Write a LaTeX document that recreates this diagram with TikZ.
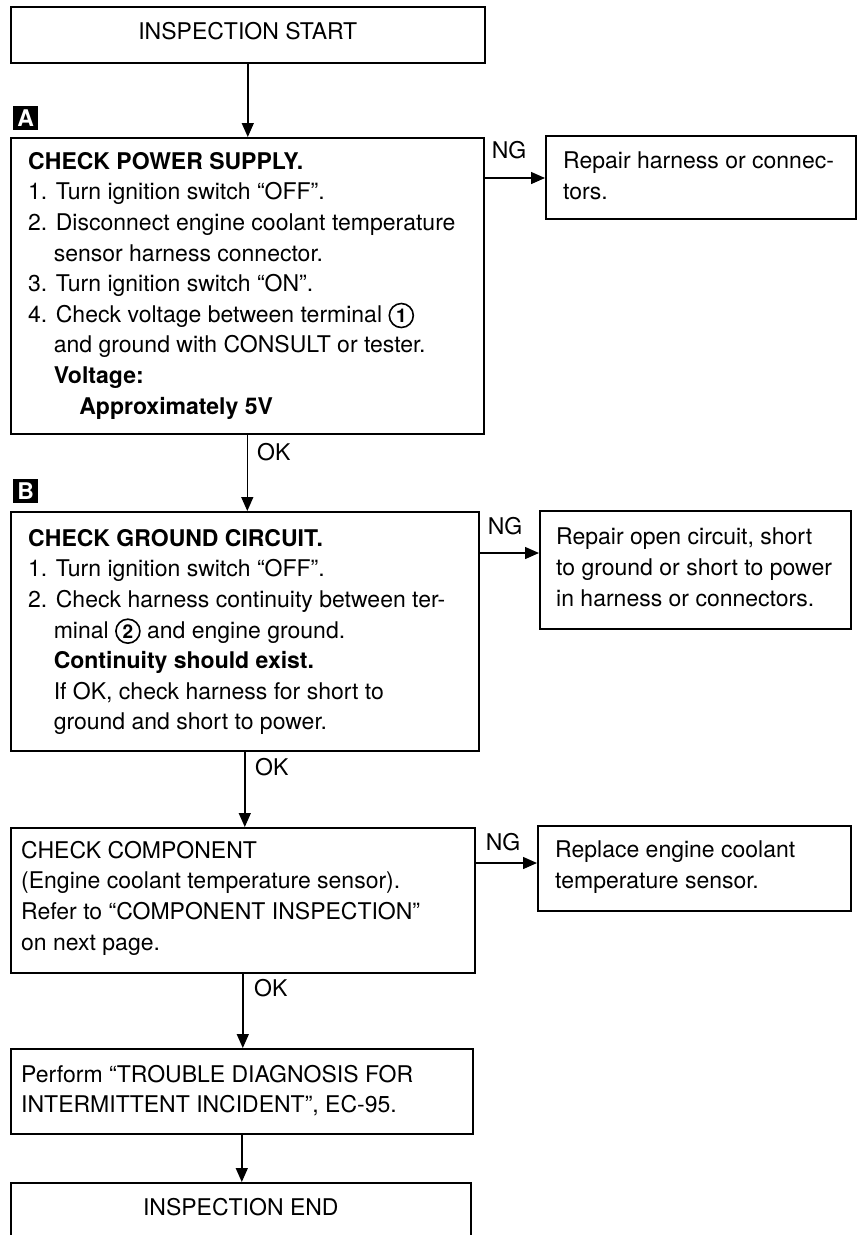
\documentclass[tikz,border=0pt]{standalone}
\usepackage{fontspec}
\setmainfont{TeX Gyre Heros}
\usetikzlibrary{arrows.meta}
\newcommand\bodyfont{\fontsize{23}{30.6}\selectfont}
\newcommand\stampfont{\bfseries\fontsize{23}{23}\selectfont}
\newcommand\hang{\phantom{2.\ }}
% circled terminal number
\newcommand\circnum[1]{\tikz[baseline=(cn#1.base)]\node[draw,circle,line width=1.6pt,inner sep=1.2pt,minimum size=24pt,font=\bfseries\fontsize{19}{19}\selectfont](cn#1){#1};}
\begin{document}
\begin{tikzpicture}[x=1pt,y=-1pt,
  every node/.style={inner sep=0pt},
  frame/.style={draw,line width=1.6pt,anchor=north west,inner sep=0pt,font=\bodyfont},
  body/.style={anchor=north west,align=left,font=\bodyfont},
  lbl/.style={font=\bodyfont},
  flow/.style={line width=1.4pt,-{Triangle[length=14pt,width=12pt]}},
  stamp/.style={fill=black,text=white,font=\stampfont,minimum width=25pt,minimum height=24pt,anchor=north west}
]
\clip (0,0) rectangle (857,1235);

% main column
\node[frame,minimum width=474,minimum height=56,text depth=8pt] (start) at (10,6) {INSPECTION START};

\node[stamp] (tagA) at (13,106) {A};
\node[frame,minimum width=473,minimum height=296] (A) at (10,137) {};
\node[body] (Atxt) at (28,152) {\textbf{CHECK POWER SUPPLY.}\\
1. Turn ignition switch “OFF”.\\
2. Disconnect engine coolant temperature\\
\hang sensor harness connector.\\
3. Turn ignition switch “ON”.\\
4. Check voltage between terminal \circnum{1}\\
\hang and ground with CONSULT or tester.\\
\hang\textbf{Voltage:}\\
\hang\hang\textbf{Approximately 5V}};

\node[stamp] (tagB) at (13,479) {B};
\node[frame,minimum width=468,minimum height=239] (B) at (10,511) {};
\node[body] (Btxt) at (28,529) {\textbf{CHECK GROUND CIRCUIT.}\\
1. Turn ignition switch “OFF”.\\
2. Check harness continuity between ter-\\
\hang minal \circnum{2} and engine ground.\\
\hang\textbf{Continuity should exist.}\\
\hang If OK, check harness for short to\\
\hang ground and short to power.};

\node[frame,minimum width=464,minimum height=145] (C) at (10,827) {};
\node[body] (Ctxt) at (21,841) {CHECK COMPONENT\\
(Engine coolant temperature sensor).\\
Refer to “COMPONENT INSPECTION”\\
on next page.};

\node[frame,minimum width=462,minimum height=85] (D) at (10,1048) {};
\node[body] (Dtxt) at (21,1065) {Perform “TROUBLE DIAGNOSIS FOR\\
INTERMITTENT INCIDENT”, EC-95.};

\node[frame,minimum width=460,minimum height=56,text depth=8pt] (finish) at (10,1182) {INSPECTION END};

% repair boxes
\node[frame,minimum width=310,minimum height=83] (ngA) at (545,135) {};
\node[body] (ngAtxt) at (563,152) {Repair harness or connec-\\tors.};

\node[frame,minimum width=311,minimum height=118] (ngB) at (539,510) {};
\node[body] (ngBtxt) at (556,528) {Repair open circuit, short\\
to ground or short to power\\
in harness or connectors.};

\node[frame,minimum width=313,minimum height=85] (ngC) at (537,825) {};
\node[body] (ngCtxt) at (555,841) {Replace engine coolant\\
temperature sensor.};

% OK / NG labels
\node[lbl,anchor=west] (okA) at (257,452) {OK};
\node[lbl,anchor=west] (okB) at (255,767) {OK};
\node[lbl,anchor=west] (okC) at (254,988) {OK};
\node[lbl] (ngAl) at (509,150) {NG};
\node[lbl] (ngBl) at (505,526) {NG};
\node[lbl] (ngCl) at (503,842) {NG};

% connectors
\draw[flow] (start.south) -- (start.south |- A.north);
\draw[flow] (A.south) -- (A.south |- B.north);
\draw[flow] (B.south) -- (B.south |- C.north);
\draw[flow] (C.south) -- (C.south |- D.north);
\draw[flow] (D.south) -- (D.south |- finish.north);

\draw[flow] ([yshift=-41pt]A.north east) coordinate (a1) -- (a1 -| ngA.west);
\draw[flow] ([yshift=-42pt]B.north east) coordinate (b1) -- (b1 -| ngB.west);
\draw[flow] ([yshift=-36pt]C.north east) coordinate (c1) -- (c1 -| ngC.west);
\end{tikzpicture}
\end{document}
